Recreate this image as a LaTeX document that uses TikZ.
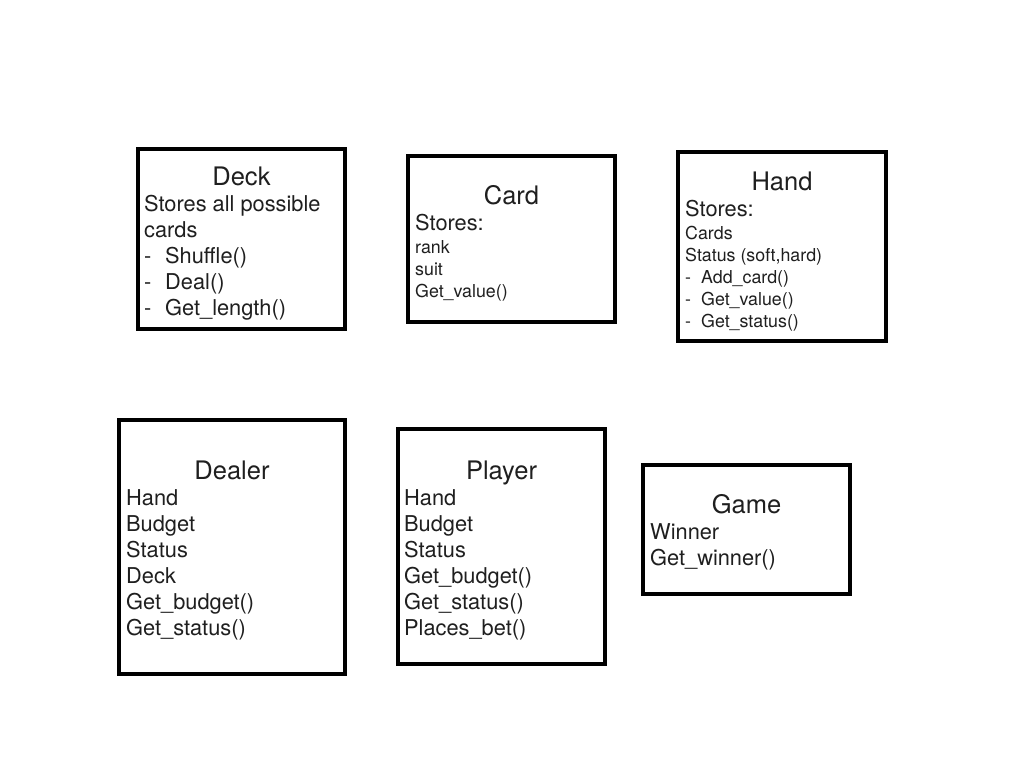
\documentclass[tikz,border=0pt]{standalone}
\usepackage{fontspec}
\setmainfont{TeX Gyre Heros}
\begin{document}
\begin{tikzpicture}[x=1pt,y=-1pt,
  umlbox/.style={draw=black, line width=4pt, rectangle, inner sep=0pt, fill=white},
  ttl/.style={anchor=base, inner sep=0pt, font=\fontsize{25.5}{30}\selectfont, text=black!88},
  big/.style={anchor=base west, inner sep=0pt, font=\fontsize{21.8}{26}\selectfont, text=black!88},
  sml/.style={anchor=base west, inner sep=0pt, font=\fontsize{17.8}{22}\selectfont, text=black!88}]
\useasboundingbox[fill=white] (0,0) rectangle (1024,768);
% boxes
\node[umlbox, minimum width=207pt, minimum height=180pt] (deck) at (241.5,239) {};
\node[umlbox, minimum width=207pt, minimum height=166pt] (card) at (511.5,239) {};
\node[umlbox, minimum width=208pt, minimum height=189pt] (hand) at (782,246.5) {};
\node[umlbox, minimum width=226pt, minimum height=254pt] (dealer) at (232,547) {};
\node[umlbox, minimum width=207pt, minimum height=235pt] (player) at (501.5,546.5) {};
\node[umlbox, minimum width=207pt, minimum height=129pt] (game) at (746.5,529.5) {};
% Deck
\node[ttl] (deckT) at (241.5,185) {Deck};
\node[big] (deck1) at (144,211) {Stores all possible};
\node[big] (deck2) at (144,237) {cards};
\node[big] (deckd1) at (144,263) {-};
\node[big] (deck3) at (165,263) {Shuffle()};
\node[big] (deckd2) at (144,289) {-};
\node[big] (deck4) at (165,289) {Deal()};
\node[big] (deckd3) at (144,315) {-};
\node[big] (deck5) at (165,315) {Get\_length()};
% Card
\node[ttl] (cardT) at (511.5,204) {Card};
\node[big] (card1) at (415,230) {Stores:};
\node[sml] (card2) at (415,253) {rank};
\node[sml] (card3) at (415,275) {suit};
\node[sml] (card4) at (415,297) {Get\_value()};
% Hand
\node[ttl] (handT) at (782,190) {Hand};
\node[big] (hand1) at (685,216) {Stores:};
\node[sml] (hand2) at (685,239) {Cards};
\node[sml] (hand3) at (685,261) {Status (soft,hard)};
\node[sml] (handd1) at (685,283) {-};
\node[sml] (hand4) at (701,283) {Add\_card()};
\node[sml] (handd2) at (685,305) {-};
\node[sml] (hand5) at (701,305) {Get\_value()};
\node[sml] (handd3) at (685,327) {-};
\node[sml] (hand6) at (701,327) {Get\_status()};
% Dealer
\node[ttl] (dealerT) at (232,479) {Dealer};
\node[big] (dealer1) at (126,505) {Hand};
\node[big] (dealer2) at (126,531) {Budget};
\node[big] (dealer3) at (126,557) {Status};
\node[big] (dealer4) at (126,583) {Deck};
\node[big] (dealer5) at (126,609) {Get\_budget()};
\node[big] (dealer6) at (126,635) {Get\_status()};
% Player
\node[ttl] (playerT) at (501.5,479) {Player};
\node[big] (player1) at (404,505) {Hand};
\node[big] (player2) at (404,531) {Budget};
\node[big] (player3) at (404,557) {Status};
\node[big] (player4) at (404,583) {Get\_budget()};
\node[big] (player5) at (404,609) {Get\_status()};
\node[big] (player6) at (404,635) {Places\_bet()};
% Game
\node[ttl] (gameT) at (746.5,513) {Game};
\node[big] (game1) at (650,539) {Winner};
\node[big] (game2) at (650,565) {Get\_winner()};
\end{tikzpicture}
\end{document}
